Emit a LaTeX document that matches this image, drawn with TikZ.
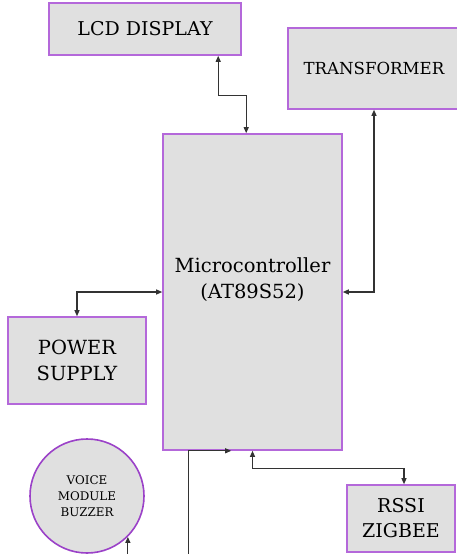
\documentclass[tikz,border=0pt]{standalone}
\usepackage{fontspec}
\setmainfont{DejaVu Serif}
\usetikzlibrary{arrows.meta}
\definecolor{boxfill}{HTML}{E0E0E0}
\definecolor{boxline}{HTML}{B468DA}
\definecolor{circline}{HTML}{9B42C8}
\definecolor{wire}{HTML}{333333}
\tikzset{
  blk/.style={draw=boxline, line width=1.6pt, fill=boxfill, inner sep=0pt, align=center, text=black},
  rnd/.style={circle, draw=circline, line width=1.6pt, fill=boxfill, inner sep=0pt, align=center, text=black},
  wirel/.style={draw=wire, line width=1.1pt, -{Triangle[length=6pt,width=5pt]}},
  wireb/.style={draw=wire, line width=1.1pt, {Triangle[length=6pt,width=5pt]}-{Triangle[length=6pt,width=5pt]}}
}
\begin{document}
\begin{tikzpicture}[x=1pt,y=-1pt]
\useasboundingbox (0,0) rectangle (457,554);
\clip (0,0) rectangle (457,554);
\node[blk, minimum width=192pt, minimum height=52pt, font=\fontsize{19}{22}\selectfont] (lcd) at (145,29) {LCD DISPLAY};
\node[blk, minimum width=172pt, minimum height=81pt, font=\fontsize{16.6}{20}\selectfont] (trans) at (374,68.5) {TRANSFORMER};
\node[blk, minimum width=179pt, minimum height=316pt] (micro) at (252.5,292) {};
\node[align=center, font=\fontsize{19.5}{26}\selectfont] (microtxt) at (252.5,280) {Microcontroller\\(AT89S52)};
\node[blk, minimum width=138pt, minimum height=87pt, font=\fontsize{19.5}{26}\selectfont] (power) at (77,360.5) {POWER\\SUPPLY};
\node[rnd, minimum size=114pt, font=\fontsize{11.9}{16}\selectfont] (voice) at (87,496) {VOICE\\MODULE\\BUZZER};
\node[blk, minimum width=108pt, minimum height=67pt, font=\fontsize{19}{25}\selectfont] (rssi) at (401,518.5) {RSSI\\ZIGBEE};
\coordinate (inA) at ([yshift=-120pt]micro.south west);
\coordinate (inB) at ([yshift=-30pt]voice.-45);
\draw[wireb] ([xshift=170pt]lcd.south west) -- ++(0,40) -| ([xshift=84pt]micro.north west);
\draw[wireb] (trans.south) |- (micro.east);
\draw[wireb] (micro.west) -| (power.north);
\draw[wireb] (micro.south) -- ++(0,18) -| ([xshift=3pt]rssi.north);
\draw[wirel] ([xshift=26pt]inA) |- ([xshift=69pt]micro.south west);
\draw[wirel] (inB) -- (voice.-45);
\end{tikzpicture}
\end{document}
